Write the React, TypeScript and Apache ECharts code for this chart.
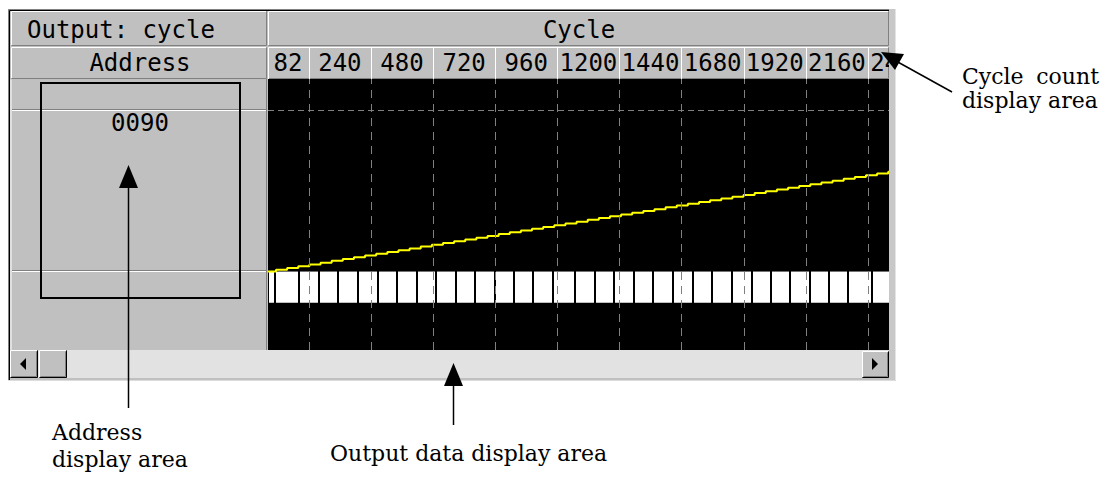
import React, { useEffect, useRef } from 'react';
import * as echarts from 'echarts';

// ---------- data ----------
const headerTitle = 'Output: cycle';
const axisTitle = 'Cycle';
const addressTitle = 'Address';
const addressValue = '0090';
const tickCycles = [82, 240, 480, 720, 960, 1200, 1440, 1680, 1920, 2160, 2400];
const gridCycles = [240, 480, 720, 960, 1200, 1440, 1680, 1920, 2160, 2400];
const stepCycles = [82, 113, 156, 199, 242, 285, 328, 371, 414, 457, 500, 543, 586, 629, 672, 715, 758, 801, 844, 887, 930, 973, 1016, 1059, 1102, 1145, 1188, 1231, 1274, 1317, 1360, 1403, 1446, 1489, 1532, 1575, 1618, 1661, 1704, 1747, 1790, 1833, 1876, 1919, 1962, 2005, 2048, 2091, 2134, 2177, 2220, 2263, 2306, 2349, 2392, 2435, 2478, 2481];
const stepValues = [0, 1, 2, 3, 4, 5, 6, 7, 8, 9, 10, 11, 12, 13, 14, 15, 16, 17, 18, 19, 20, 21, 22, 23, 24, 25, 26, 27, 28, 29, 30, 31, 32, 33, 34, 35, 36, 37, 38, 39, 40, 41, 42, 43, 44, 45, 46, 47, 48, 49, 50, 51, 52, 53, 54, 55, 56, 56];
const boxEdges = [82, 109, 202, 279, 352, 430, 507, 580, 658, 731, 808, 882, 959, 1032, 1106, 1183, 1268, 1345, 1419, 1496, 1569, 1647, 1724, 1797, 1874, 1952, 2025, 2098, 2176, 2249, 2322, 2415, 2481];
const addressNote = ['Address', 'display area'];
const outputNote = 'Output data display area';
const cycleNote = ['Cycle', 'count', 'display area'];

// ---------- styling ----------
const GRAY = '#c0c0c0';
const DARK = '#808080';
const MONO = '"DejaVu Sans Mono", "Liberation Mono", monospace';
const MONO_SIZE = 24;
const SERIF = '"DejaVu Serif", "Liberation Serif", serif';

function raised(x: number, y: number, w: number, h: number, z: number, outer = false): any[] {
  const els: any[] = [
    { type: 'rect', shape: { x, y, width: w, height: h }, style: { fill: GRAY }, z, silent: true },
    { type: 'polyline', shape: { points: [[x + 0.5, y + h - 1], [x + 0.5, y + 0.5], [x + w - 1, y + 0.5]] }, style: { stroke: '#ffffff', lineWidth: 1, fill: null }, z, silent: true },
    { type: 'polyline', shape: { points: [[x + 0.5, y + h - 0.5], [x + w - 0.5, y + h - 0.5], [x + w - 0.5, y + 0.5]] }, style: { stroke: outer ? '#000000' : DARK, lineWidth: 1, fill: null }, z, silent: true },
  ];
  if (outer) {
    els.push({ type: 'polyline', shape: { points: [[x + 1.5, y + h - 1.5], [x + w - 1.5, y + h - 1.5], [x + w - 1.5, y + 1.5]] }, style: { stroke: DARK, lineWidth: 1, fill: null }, z, silent: true });
  }
  return els;
}

function monoText(text: string, x: number, y: number, align: string, z: number) {
  return { type: 'text', x, y, z, silent: true, style: { text, fill: '#000', fontSize: MONO_SIZE, lineHeight: MONO_SIZE, fontFamily: MONO, align, verticalAlign: 'middle' } };
}

function serifText(text: string, x: number, y: number, align: string, z: number) {
  return { type: 'text', x, y, z, silent: true, style: { text, fill: '#000', fontSize: 22, fontFamily: SERIF, align, verticalAlign: 'middle' } };
}

function buildGraphic(): any[] {
  const els: any[] = [];
  // window frame background
  els.push({ type: 'rect', shape: { x: 8, y: 9, width: 888, height: 372 }, style: { fill: GRAY }, z: 0, silent: true });
  els.push({ type: 'polyline', shape: { points: [[8.5, 381], [8.5, 9.5], [896, 9.5]] }, style: { stroke: DARK, lineWidth: 1 }, z: 0, silent: true });
  els.push({ type: 'polyline', shape: { points: [[9.5, 380], [9.5, 10.5], [895, 10.5]] }, style: { stroke: '#000', lineWidth: 1 }, z: 0, silent: true });
  // header cells
  els.push(...raised(11, 11, 256, 35, 1));
  els.push(...raised(268, 11, 621, 35, 1));
  els.push(...raised(11, 47, 256, 32, 1));
  els.push(...raised(268, 47, 621, 32, 1));
  els.push(monoText(headerTitle, 27, 29.5, 'left', 2));
  els.push(monoText(axisTitle, 579, 29.5, 'center', 2));
  els.push(monoText(addressTitle, 140, 62.5, 'center', 2));
  // left (address) panel
  els.push({ type: 'line', shape: { x1: 11, y1: 79.5, x2: 11, y2: 350 }, style: { stroke: '#fff', lineWidth: 1 }, z: 1, silent: true });
  els.push({ type: 'line', shape: { x1: 266.5, y1: 79, x2: 266.5, y2: 350 }, style: { stroke: DARK, lineWidth: 1 }, z: 1, silent: true });
  els.push({ type: 'line', shape: { x1: 12, y1: 109.5, x2: 266, y2: 109.5 }, style: { stroke: DARK, lineWidth: 1 }, z: 1, silent: true });
  els.push({ type: 'line', shape: { x1: 12, y1: 110.5, x2: 266, y2: 110.5 }, style: { stroke: '#fff', lineWidth: 1 }, z: 1, silent: true });
  els.push({ type: 'line', shape: { x1: 12, y1: 270.5, x2: 266, y2: 270.5 }, style: { stroke: DARK, lineWidth: 1 }, z: 1, silent: true });
  els.push({ type: 'line', shape: { x1: 12, y1: 271.5, x2: 266, y2: 271.5 }, style: { stroke: '#fff', lineWidth: 1 }, z: 1, silent: true });
  els.push(monoText(addressValue, 140, 123, 'center', 2));
  // scrollbar
  els.push({ type: 'rect', shape: { x: 10, y: 350, width: 879, height: 28 }, style: { fill: '#e2e2e2' }, z: 1, silent: true });
  els.push(...raised(10, 350, 28, 28, 2, true));
  els.push({ type: 'polygon', shape: { points: [[20, 364], [26, 358], [26, 370]] }, style: { fill: '#000' }, z: 3, silent: true });
  els.push(...raised(39, 350, 28, 28, 2, true));
  els.push(...raised(862, 351, 27, 27, 2, true));
  els.push({ type: 'polygon', shape: { points: [[878, 364], [872, 358], [872, 370]] }, style: { fill: '#000' }, z: 3, silent: true });
  // right/bottom frame + cover for overflowing tick label
  els.push({ type: 'rect', shape: { x: 896, y: 40, width: 214, height: 42 }, style: { fill: '#ffffff' }, z: 20, silent: true });
  els.push({ type: 'rect', shape: { x: 889, y: 9, width: 7, height: 372 }, style: { fill: '#c8c8c8' }, z: 21, silent: true });
  els.push({ type: 'line', shape: { x1: 895.5, y1: 9, x2: 895.5, y2: 381 }, style: { stroke: '#e4e4e4', lineWidth: 1 }, z: 21, silent: true });
  els.push({ type: 'line', shape: { x1: 8, y1: 380.5, x2: 896, y2: 380.5 }, style: { stroke: '#dcdcdc', lineWidth: 1 }, z: 21, silent: true });
  // annotations
  els.push({ type: 'rect', shape: { x: 41, y: 83, width: 199, height: 215 }, style: { fill: null, stroke: '#000', lineWidth: 2 }, z: 30, silent: true });
  els.push({ type: 'line', shape: { x1: 128.5, y1: 185, x2: 128.5, y2: 408 }, style: { stroke: '#000', lineWidth: 1.5 }, z: 30, silent: true });
  els.push({ type: 'polygon', shape: { points: [[128.5, 165], [119, 188], [138, 188]] }, style: { fill: '#000' }, z: 30, silent: true });
  els.push({ type: 'line', shape: { x1: 453.5, y1: 383, x2: 453.5, y2: 425 }, style: { stroke: '#000', lineWidth: 1.5 }, z: 30, silent: true });
  els.push({ type: 'polygon', shape: { points: [[453.5, 363], [444, 386], [463, 386]] }, style: { fill: '#000' }, z: 30, silent: true });
  els.push({ type: 'line', shape: { x1: 896, y1: 61, x2: 952, y2: 92 }, style: { stroke: '#000', lineWidth: 1.5 }, z: 30, silent: true });
  els.push({ type: 'polygon', shape: { points: [[881, 52], [904, 54], [895, 70]] }, style: { fill: '#000' }, z: 30, silent: true });
  els.push(serifText(addressNote[0], 52, 432, 'left', 30));
  els.push(serifText(addressNote[1], 52, 459, 'left', 30));
  els.push(serifText(outputNote, 330, 453, 'left', 30));
  els.push(serifText(cycleNote[0], 962, 76, 'left', 30));
  els.push(serifText(cycleNote[1], 1099, 76, 'right', 30));
  els.push(serifText(cycleNote[2], 962, 100, 'left', 30));
  return els;
}

export default function App() {
  const ref = useRef<HTMLDivElement>(null);
  useEffect(() => {
    if (!ref.current) return;
    const chart = echarts.init(ref.current, null, { renderer: 'svg' });
    const boxData = boxEdges.slice(0, -1).map((s, i) => [s, boxEdges[i + 1], 0]);
    const lineData = stepCycles.map((c, i) => [c, stepValues[i]]);
    const labelStyle = { fontSize: MONO_SIZE, fontFamily: MONO, color: '#000', lineHeight: MONO_SIZE, align: 'center' };
    const option: any = {
      animation: false,
      grid: { left: 268, top: 79, width: 621, height: 271, show: true, backgroundColor: '#000', borderWidth: 0, z: 1, outerBoundsMode: 'none', containLabel: false },
      xAxis: {
        type: 'value', position: 'top', min: 82, max: 2481, z: 5,
        axisLine: { show: false, onZero: false },
        splitLine: { show: false },
        axisTick: { show: true, customValues: tickCycles, length: 31, lineStyle: { color: '#ffffff', width: 1 } },
        axisLabel: {
          show: true, customValues: tickCycles, align: 'left', verticalAlign: 'middle', margin: 16.5,
          fontSize: MONO_SIZE, lineHeight: MONO_SIZE, fontFamily: MONO, color: '#000',
          formatter: (v: number) => (v === tickCycles[0] ? `{a|${v}}` : `{b|${v}}`),
          rich: { a: { ...labelStyle, width: 40 }, b: { ...labelStyle, width: 62 } },
        },
      },
      yAxis: { type: 'value', min: -44, max: 108, show: false, splitLine: { show: false } },
      series: [
        {
          type: 'custom', z: 2, clip: true, silent: true,
          data: boxData,
          encode: { x: [0, 1], y: 2 },
          renderItem: (params: any, api: any) => {
            const a = api.coord([api.value(0), 0]);
            const b = api.coord([api.value(1), -17.5]);
            const last = params.dataIndex === boxData.length - 1;
            const x0 = Math.round(a[0]);
            const x1 = Math.round(b[0]);
            return { type: 'rect', shape: { x: x0 + 1, y: a[1], width: x1 - x0 - (last ? 1 : 2), height: b[1] - a[1] }, style: { fill: '#ffffff' } };
          },
        },
        {
          type: 'line', data: [], z: 3, silent: true,
          markLine: {
            silent: true, symbol: ['none', 'none'], label: { show: false },
            lineStyle: { color: DARK, type: [8, 6], width: 1 },
            data: [
              ...gridCycles.map((c) => ({ xAxis: c })),
              { yAxis: 90.6, lineStyle: { color: DARK, type: [6, 4], width: 1 } },
            ],
          },
        },
        {
          type: 'line', step: 'end', data: lineData, z: 4, silent: true,
          symbol: 'none', lineStyle: { color: '#ffff00', width: 2 },
        },
      ],
      graphic: { elements: buildGraphic() },
    };
    chart.setOption(option);
    return () => chart.dispose();
  }, []);
  return <div ref={ref} style={{ position: 'fixed', left: 0, top: 0, width: 1110, height: 498, background: '#fff' }} />;
}
